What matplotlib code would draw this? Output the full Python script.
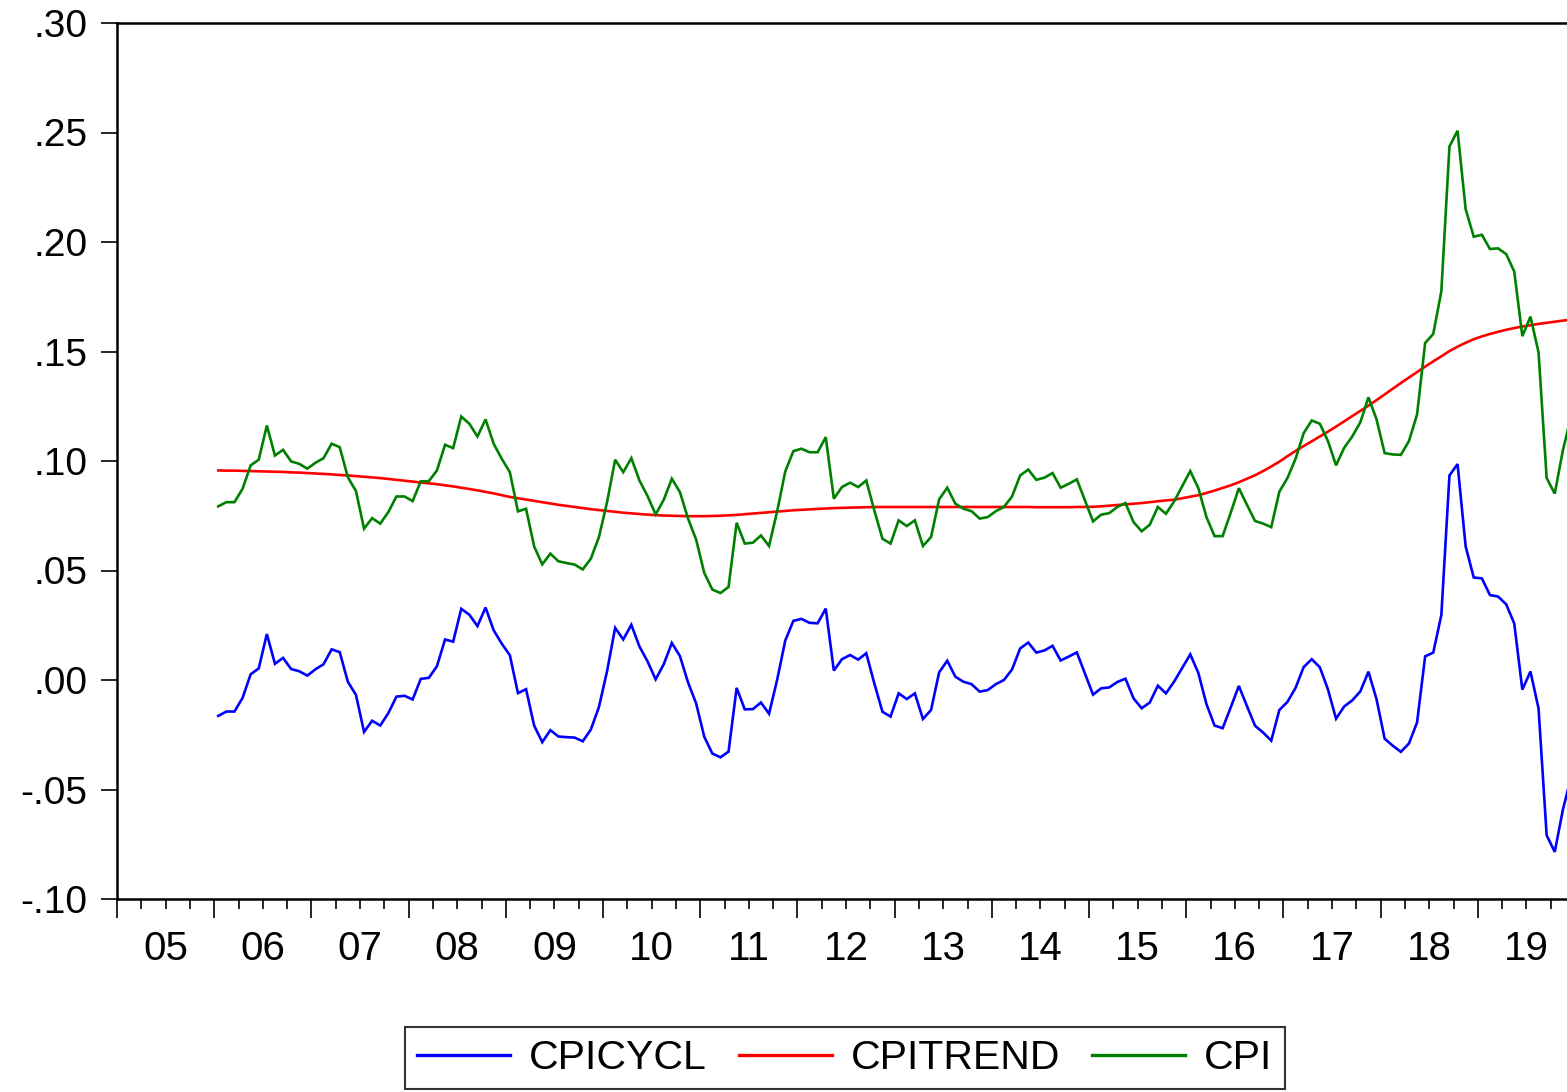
import numpy as np
import matplotlib
matplotlib.use("Agg")
import matplotlib.pyplot as plt
from matplotlib.ticker import FixedLocator, FixedFormatter, NullFormatter

plt.rcParams['font.family'] = ['Liberation Sans', 'DejaVu Sans']

# Monthly data, Jan 2006 - Dec 2019
start_year = 2006

cpi = [
    0.0793, 0.0812, 0.0812, 0.0873, 0.0980, 0.1006, 0.1162, 0.1025, 0.1051, 0.0998, 0.0987, 0.0965,
    0.0992, 0.1013, 0.1079, 0.1063, 0.0926, 0.0863, 0.0691, 0.0739, 0.0714, 0.0767, 0.0838, 0.0838,
    0.0817, 0.0907, 0.0908, 0.0957, 0.1074, 0.1059, 0.1203, 0.1170, 0.1112, 0.1190, 0.1079, 0.1010,
    0.0949, 0.0770, 0.0782, 0.0610, 0.0528, 0.0577, 0.0542, 0.0534, 0.0527, 0.0505, 0.0554, 0.0653,
    0.0812, 0.1006, 0.0949, 0.1013, 0.0911, 0.0840, 0.0756, 0.0823, 0.0919, 0.0858, 0.0737, 0.0641,
    0.0489, 0.0413, 0.0397, 0.0425, 0.0718, 0.0623, 0.0627, 0.0660, 0.0612, 0.0770, 0.0952, 0.1045,
    0.1056, 0.1040, 0.1040, 0.1109, 0.0828, 0.0881, 0.0901, 0.0881, 0.0911, 0.0774, 0.0645, 0.0623,
    0.0729, 0.0703, 0.0729, 0.0612, 0.0653, 0.0825, 0.0878, 0.0805, 0.0782, 0.0771, 0.0737, 0.0744,
    0.0771, 0.0790, 0.0838, 0.0934, 0.0961, 0.0914, 0.0924, 0.0945, 0.0878, 0.0896, 0.0916, 0.0820,
    0.0724, 0.0755, 0.0762, 0.0790, 0.0808, 0.0721, 0.0679, 0.0709, 0.0790, 0.0759, 0.0815, 0.0885,
    0.0954, 0.0876, 0.0744, 0.0657, 0.0657, 0.0764, 0.0876, 0.0800, 0.0726, 0.0714, 0.0698, 0.0860,
    0.0922, 0.1010, 0.1127, 0.1185, 0.1170, 0.1091, 0.0980, 0.1060, 0.1112, 0.1177, 0.1291, 0.1190,
    0.1036, 0.1030, 0.1028, 0.1091, 0.1212, 0.1539, 0.1580, 0.1775, 0.2436, 0.2508, 0.2150, 0.2024,
    0.2033, 0.1968, 0.1971, 0.1945, 0.1865, 0.1570, 0.1659, 0.1496, 0.0922, 0.0851, 0.1048, 0.1200,
]

cpitrend = [
    0.0957, 0.0956, 0.0956, 0.0955, 0.0954, 0.0953, 0.0952, 0.0951, 0.0950, 0.0948, 0.0947, 0.0945,
    0.0943, 0.0941, 0.0939, 0.0936, 0.0934, 0.0931, 0.0928, 0.0925, 0.0922, 0.0918, 0.0914, 0.0910,
    0.0906, 0.0902, 0.0898, 0.0894, 0.0889, 0.0884, 0.0878, 0.0872, 0.0866, 0.0859, 0.0852, 0.0844,
    0.0836, 0.0830, 0.0824, 0.0818, 0.0812, 0.0806, 0.0800, 0.0795, 0.0790, 0.0785, 0.0780, 0.0776,
    0.0772, 0.0768, 0.0764, 0.0761, 0.0758, 0.0755, 0.0753, 0.0751, 0.0750, 0.0749, 0.0748, 0.0748,
    0.0748, 0.0749, 0.0750, 0.0752, 0.0754, 0.0757, 0.0760, 0.0763, 0.0766, 0.0769, 0.0772, 0.0775,
    0.0777, 0.0779, 0.0781, 0.0783, 0.0785, 0.0786, 0.0787, 0.0788, 0.0789, 0.0790, 0.0790, 0.0790,
    0.0790, 0.0790, 0.0790, 0.0790, 0.0790, 0.0790, 0.0790, 0.0790, 0.0790, 0.0790, 0.0790, 0.0790,
    0.0790, 0.0790, 0.0790, 0.0790, 0.0790, 0.0789, 0.0789, 0.0789, 0.0789, 0.0789, 0.0790, 0.0790,
    0.0791, 0.0793, 0.0796, 0.0799, 0.0802, 0.0805, 0.0808, 0.0812, 0.0816, 0.0820, 0.0823, 0.0830,
    0.0837, 0.0844, 0.0854, 0.0865, 0.0877, 0.0889, 0.0903, 0.0919, 0.0935, 0.0954, 0.0975, 0.0997,
    0.1022, 0.1046, 0.1068, 0.1090, 0.1112, 0.1134, 0.1157, 0.1181, 0.1205, 0.1229, 0.1253, 0.1278,
    0.1304, 0.1330, 0.1356, 0.1381, 0.1406, 0.1431, 0.1455, 0.1478, 0.1502, 0.1522, 0.1540, 0.1556,
    0.1569, 0.1580, 0.1590, 0.1599, 0.1607, 0.1614, 0.1620, 0.1626, 0.1631, 0.1636, 0.1641, 0.1645,
]

cpicycl = [
    -0.0164, -0.0144, -0.0144, -0.0082, 0.0026, 0.0053, 0.0210, 0.0074, 0.0101, 0.0050, 0.0040, 0.0020,
    0.0049, 0.0072, 0.0140, 0.0127, -0.0008, -0.0068, -0.0237, -0.0186, -0.0208, -0.0151, -0.0076, -0.0072,
    -0.0089, 0.0005, 0.0010, 0.0063, 0.0185, 0.0175, 0.0325, 0.0298, 0.0246, 0.0331, 0.0227, 0.0166,
    0.0113, -0.0060, -0.0042, -0.0208, -0.0284, -0.0229, -0.0258, -0.0261, -0.0263, -0.0280, -0.0226, -0.0123,
    0.0040, 0.0238, 0.0185, 0.0252, 0.0153, 0.0085, 0.0003, 0.0072, 0.0169, 0.0109, -0.0011, -0.0107,
    -0.0259, -0.0336, -0.0353, -0.0327, -0.0036, -0.0134, -0.0133, -0.0103, -0.0154, 0.0001, 0.0180, 0.0270,
    0.0279, 0.0261, 0.0259, 0.0326, 0.0043, 0.0095, 0.0114, 0.0093, 0.0122, -0.0016, -0.0145, -0.0167,
    -0.0061, -0.0087, -0.0061, -0.0178, -0.0137, 0.0035, 0.0088, 0.0015, -0.0008, -0.0019, -0.0053, -0.0046,
    -0.0019, 0.0000, 0.0048, 0.0144, 0.0171, 0.0125, 0.0135, 0.0156, 0.0089, 0.0107, 0.0126, 0.0030,
    -0.0067, -0.0038, -0.0034, -0.0009, 0.0006, -0.0084, -0.0129, -0.0103, -0.0026, -0.0061, -0.0008, 0.0055,
    0.0117, 0.0032, -0.0110, -0.0208, -0.0220, -0.0125, -0.0027, -0.0119, -0.0209, -0.0240, -0.0277, -0.0137,
    -0.0100, -0.0036, 0.0059, 0.0095, 0.0058, -0.0043, -0.0177, -0.0121, -0.0093, -0.0052, 0.0038, -0.0088,
    -0.0268, -0.0300, -0.0328, -0.0290, -0.0194, 0.0108, 0.0125, 0.0297, 0.0934, 0.0986, 0.0610, 0.0468,
    0.0464, 0.0388, 0.0381, 0.0346, 0.0258, -0.0044, 0.0039, -0.0130, -0.0709, -0.0785, -0.0593, -0.0445,
]

series_names = ["CPICYCL", "CPITREND", "CPI"]
series_colors = ["#0000FF", "#FF0000", "#008000"]

year_labels = ["05", "06", "07", "08", "09", "10", "11", "12", "13", "14",
               "15", "16", "17", "18", "19"]
first_label_year = 2005

ytick_values = [0.30, 0.25, 0.20, 0.15, 0.10, 0.05, 0.00, -0.05, -0.10]
ytick_labels = [".30", ".25", ".20", ".15", ".10", ".05", ".00", "-.05", "-.10"]

# ---------------------------------------------------------------
n = len(cpi)
x = start_year + (np.arange(n) + 0.5) / 12.0

W, H = 1567, 1092
fig = plt.figure(figsize=(W / 100, H / 100), dpi=100)
ax = fig.add_axes([117 / W, 193 / H, 1458 / W, 876 / H])

for vals, name, col in zip([cpicycl, cpitrend, cpi], series_names, series_colors):
    ax.plot(x, vals, color=col, lw=1.9, label=name, solid_joinstyle='miter')

n_years = len(year_labels)
ax.set_xlim(first_label_year, first_label_year + n_years)
ax.set_ylim(-0.10, 0.30)

major_pos = [first_label_year + k for k in range(n_years + 1)]
minor_pos, minor_lab = [], []
for k, lab in enumerate(year_labels):
    y0 = first_label_year + k
    minor_pos += [y0 + 0.25, y0 + 0.5, y0 + 0.75]
    minor_lab += ["", lab, ""]

ax.xaxis.set_major_locator(FixedLocator(major_pos))
ax.xaxis.set_major_formatter(NullFormatter())
ax.xaxis.set_minor_locator(FixedLocator(minor_pos))
ax.xaxis.set_minor_formatter(FixedFormatter(minor_lab))
ax.tick_params(axis='x', which='major', length=13.7, width=1.2, direction='out')
ax.tick_params(axis='x', which='minor', length=7.2, width=1.2, direction='out',
               labelsize=29, pad=15)

ax.set_yticks(ytick_values)
ax.set_yticklabels(ytick_labels)
ax.tick_params(axis='y', which='major', length=11.5, width=1.2, direction='out',
               labelsize=28, pad=10)

for s in ax.spines.values():
    s.set_linewidth(1.8)
    s.set_color('black')

leg = fig.legend(loc='center', bbox_to_anchor=(845 / W, 1 - 1058 / H), ncol=3,
                 frameon=True, fancybox=False, edgecolor='black', fontsize=29.5,
                 handlelength=2.27, handletextpad=0.46, columnspacing=0.78,
                 borderpad=0.3)
leg.get_frame().set_linewidth(1.5)
for line in leg.get_lines():
    line.set_linewidth(2.4)

fig.savefig("out.png", dpi=100)
